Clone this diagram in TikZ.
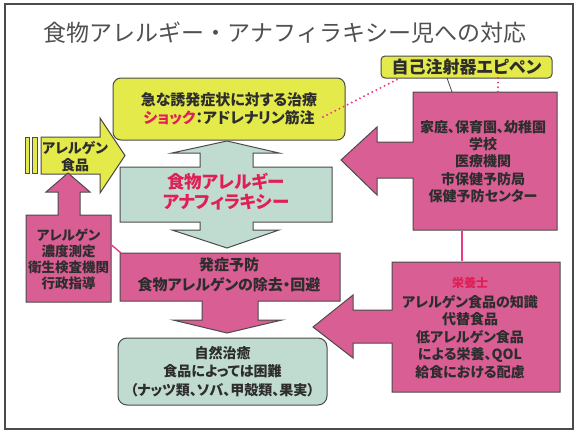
\documentclass[tikz,border=0pt]{standalone}
\usepackage{fontspec}
\newfontfamily\jp{Noto Sans CJK JP}[RawFeature=+palt]
\newfontfamily\jpt{Noto Sans CJK JP}
\definecolor{yel}{RGB}{228,234,74}
\definecolor{pinkf}{RGB}{216,94,148}
\definecolor{tealf}{RGB}{192,220,208}
\definecolor{edge}{RGB}{75,75,75}
\definecolor{txt}{RGB}{45,45,45}
\definecolor{redt}{RGB}{225,30,85}
\definecolor{dotc}{RGB}{232,60,130}
\begin{document}
\begin{tikzpicture}[x=1pt,y=-1pt,
  shp/.style={draw=edge, line width=1pt, line join=miter},
  body/.style={font=\jp\bfseries\fontsize{14}{17}\selectfont, text=txt, align=center, inner sep=0pt},
  pinkdot/.style={draw=dotc, line width=2.2pt, line cap=round, dash pattern=on 0pt off 4.6pt},
  pinkline/.style={draw=dotc, line width=1.8pt}]
\useasboundingbox (0,0) rectangle (580,436);
\fill[white] (0,0) rectangle (580,436);
\draw[edge, line width=2pt] (5,4) rectangle (573,429);

% title
\node[font=\jpt\fontsize{23}{23}\selectfont, text={rgb,255:red,80;green,80;blue,80}, inner sep=0pt] (title) at (285,33) {食物アレルギー・アナフィラキシー児への対応};

% epipen label
\node[shp, fill=yel, rounded corners=4pt, minimum width=171pt, minimum height=22pt, inner sep=0pt,
      font=\jp\bfseries\fontsize{17}{17}\selectfont, text=txt] (epi) at (466.5,67) {自己注射器エピペン};

% top treatment box
\node[shp, fill=yel, rounded corners=8pt, minimum width=232pt, minimum height=62pt, body,
      font=\jp\bfseries\fontsize{15}{18}\selectfont] (treat) at (229,109)
  {急な誘発症状に対する治療\\{\color{redt}ショック}：アドレナリン筋注};

% left yellow arrow
\fill[yel, draw=edge, line width=0.8pt] (25,137) rectangle (29,173);
\fill[yel, draw=edge, line width=0.8pt] (32,137) rectangle (37,173);
\draw[shp, fill=yel] (41,137) -- (100,137) -- (100,118) -- (125,155.5) -- (100,193) -- (100,174) -- (41,174) -- cycle;
\node[body] (food) at (75,157) {アレルゲン\\食品};

% left pink up arrow
\draw[shp, fill=pinkf] (68,173) -- (90,192) -- (80,192) -- (80,215) -- (111,215) -- (111,302) -- (26,302) -- (26,215) -- (58,215) -- (58,192) -- (46,192) -- cycle;
\node[body, font=\jp\bfseries\fontsize{13.5}{16}\selectfont] (measure) at (68.5,259) {アレルゲン\\濃度測定\\衛生検査機関\\行政指導};

% central teal double arrow
\draw[shp, fill=tealf] (227,141) -- (279,153) -- (253,153) -- (253,167) -- (332,167) -- (332,222) -- (253,222) -- (253,230) -- (279,230) -- (227,248) -- (172,230) -- (200,230) -- (200,222) -- (120,222) -- (120,167) -- (200,167) -- (200,153) -- (172,153) -- cycle;
\node[body, text=redt, font=\jp\bfseries\fontsize{17.5}{20}\selectfont] (allergy) at (226,192) {食物アレルギー\\アナフィラキシー};

% middle pink down arrow
\draw[shp, fill=pinkf] (120,253) -- (340,253) -- (340,301) -- (258,301) -- (258,320) -- (282,320) -- (227,333) -- (173,320) -- (202,320) -- (202,301) -- (120,301) -- cycle;
\node[body, font=\jp\bfseries\fontsize{15}{20}\selectfont] (prevent) at (229,275) {発症予防\\食物アレルゲンの除去・回避};

% bottom teal box
\node[shp, fill=tealf, rounded corners=9pt, minimum width=209pt, minimum height=67pt, body,
      font=\jp\bfseries\fontsize{14}{18.5}\selectfont] (cure) at (222.5,371.5)
  {自然治癒\\食品によっては困難\\（ナッツ類、ソバ、甲殻類、果実）};

% right pink arrow 1
\draw[shp, fill=pinkf] (557,92) -- (557,230) -- (413,230) -- (413,178) -- (377,178) -- (377,195) -- (341,160) -- (377,127) -- (377,142) -- (413,142) -- (413,92) -- cycle;
\node[body, font=\jp\bfseries\fontsize{14}{17.2}\selectfont] (places) at (483,161.5) {家庭、保育園、幼稚園\\学校\\医療機関\\市保健予防局\\保健予防センター};

% right pink arrow 2
\draw[shp, fill=pinkf] (560,262) -- (560,392) -- (392,392) -- (392,343) -- (353,343) -- (353,358) -- (313,327) -- (353,295) -- (353,310) -- (392,310) -- (392,262) -- cycle;
\node[body, text=redt, font=\jp\bfseries\fontsize{12}{12}\selectfont] (diet) at (470,283) {栄養士};
\node[body, font=\jp\bfseries\fontsize{14}{17.5}\selectfont] (dietlist) at (470,337) {アレルゲン食品の知識\\代替食品\\低アレルゲン食品\\による栄養、QOL\\給食における配慮};

% connectors
\coordinate (dA) at (323,117);
\coordinate (dB) at (400,78);
\coordinate (dC) at (498,78);
\coordinate (dD) at (498,92);
\draw[pinkdot] (dA) -- (dB);
\draw[pinkdot] (dC) -- (dD);
\coordinate (tA) at (447,78);
\coordinate (tB) at (452,92);
\draw[edge, line width=0.8pt] (tA) -- (tB);
\coordinate (vA) at (462,231);
\coordinate (vB) at (462,261);
\draw[pinkline] (vA) -- (vB);
\coordinate (gA) at (111.5,245);
\coordinate (gB) at (121,253);
\draw[pinkline, line width=1.4pt] (gA) -- (gB);
\end{tikzpicture}
\end{document}
